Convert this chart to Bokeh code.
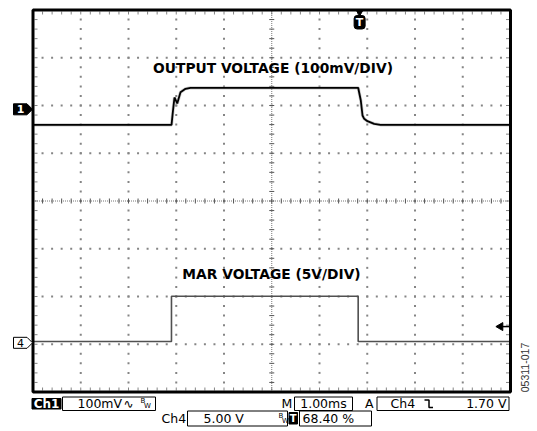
import numpy as np
from bokeh.plotting import figure
from bokeh.models import Range1d, Label
from bokeh.embed import file_html
from bokeh.resources import INLINE

# ---------------- data ----------------
# time in ms from the left edge of the screen (1.00 ms/div, 10 div)
ch1_time_ms = [0.0, 2.901, 2.932, 2.963, 3.020, 3.089, 3.194, 3.298,
               6.810, 6.865, 6.901, 6.936, 7.005, 7.145, 7.277, 10.0]
# Ch1 output voltage, mV relative to the channel-1 ground marker
ch1_mv = [-32.4, -32.4, -2.5, 24.8, 12.2, 35.9, 43.0, 45.1,
          45.1, 18.5, -12.9, -19.9, -24.9, -30.3, -32.4, -32.4]

ch4_time_ms = [0.0, 2.90, 2.90, 6.81, 6.81, 10.0]
# Ch4 MAR voltage, V relative to the channel-4 ground marker
ch4_v = [0.14, 0.14, 4.88, 4.88, 0.14, 0.14]

CH1_MV_PER_DIV = 100.0
CH1_POS_DIV = 1.92
CH4_V_PER_DIV = 5.0
CH4_POS_DIV = -2.97
MS_PER_DIV = 1.0
TRIG_POS_PCT = 68.40
TRIG_LEVEL_V = 1.70

ch1_label = "OUTPUT VOLTAGE (100mV/DIV)"
ch4_label = "MAR VOLTAGE (5V/DIV)"

# ---------------- layout helpers (page px -> screen divisions) ----------------
PX = 47.75      # pixels per division
X0 = 32.5       # page x of screen left edge
Y0 = 200.5      # page y of screen centre


def hx(px):
    return (px - X0) / PX


def hy(py):
    return (Y0 - py) / PX


def d(n):
    return n / PX


W, H = 537, 431
p = figure(width=W, height=H, x_range=Range1d(hx(0), hx(W)),
           y_range=Range1d(hy(H), hy(0)), x_axis_type=None, y_axis_type=None,
           toolbar_location=None, output_backend="svg", min_border=0,
           outline_line_color=None, background_fill_color="white",
           border_fill_color="white")

GRID = "#858585"
# dotted graticule
vx, vy = [], []
for gx in range(1, 10):
    if gx == 5:
        continue
    for k in range(-19, 20):
        vx.append(gx); vy.append(k * 0.2)
for gy in range(-3, 4):
    if gy == 0:
        continue
    for k in range(1, 50):
        vx.append(k * 0.2); vy.append(gy)
p.scatter(vx, vy, marker="square", size=2, line_color=None, fill_color=GRID)

# edge ticks
tx = [k * 0.2 for k in range(1, 50)]
ty = [k * 0.2 for k in range(-19, 20)]
p.segment(x0=tx, x1=tx, y0=[4 - d(1.5)] * len(tx), y1=[4 - d(4.5)] * len(tx), line_color=GRID, line_width=1)
p.segment(x0=tx, x1=tx, y0=[-4 + d(1.5)] * len(tx), y1=[-4 + d(4.5)] * len(tx), line_color=GRID, line_width=1)
p.segment(x0=[d(1.5)] * len(ty), x1=[d(4.5)] * len(ty), y0=ty, y1=ty, line_color=GRID, line_width=1)
p.segment(x0=[10 - d(1.5)] * len(ty), x1=[10 - d(4.5)] * len(ty), y0=ty, y1=ty, line_color=GRID, line_width=1)

# centre crosshair with ticks
p.segment(x0=[0], x1=[10], y0=[0], y1=[0], line_color="#777777", line_width=1, line_dash="1 1")
p.segment(x0=[5], x1=[5], y0=[-4], y1=[4], line_color="#777777", line_width=1, line_dash="1 1")
p.segment(x0=tx, x1=tx, y0=[-d(2.5)] * len(tx), y1=[d(2.5)] * len(tx), line_color="#555555", line_width=1)
p.segment(x0=[5 - d(2.5)] * len(ty), x1=[5 + d(2.5)] * len(ty), y0=ty, y1=ty, line_color="#555555", line_width=1)

# traces
c1x = np.array(ch1_time_ms) / MS_PER_DIV
c1y = np.array(ch1_mv) / CH1_MV_PER_DIV + CH1_POS_DIV
c4x = np.array(ch4_time_ms) / MS_PER_DIV
c4y = np.array(ch4_v) / CH4_V_PER_DIV + CH4_POS_DIV
p.line(c4x, c4y, line_color="#505050", line_width=1.6)
p.line(c1x, c1y, line_color="#9a9a9a", line_width=3.2, line_alpha=0.5)
p.line(c1x, c1y, line_color="black", line_width=1.8)

# screen border
p.quad(left=[0], right=[10], bottom=[-4], top=[4], fill_color=None, line_color="black", line_width=3)

# channel ground markers
def marker(ycent, fill, txt, tcolor, bold):
    xs = [hx(13), hx(26.5), hx(32), hx(26.5), hx(13)]
    ys = [ycent + d(5.5), ycent + d(5.5), ycent, ycent - d(5.5), ycent - d(5.5)]
    p.patch(xs, ys, fill_color=fill, line_color="black", line_width=1)
    p.add_layout(Label(x=hx(20), y=ycent, text=txt, text_color=tcolor, text_font="DejaVu Sans",
                       text_font_style="bold" if bold else "normal", text_font_size="11px",
                       text_align="center", text_baseline="middle"))


marker(CH1_POS_DIV, "black", "1", "white", True)
marker(CH4_POS_DIV, "white", "4", "black", False)

# trigger position marker
tpos = TRIG_POS_PCT / 10.0
p.scatter([tpos], [hy(11.5)], marker="inverted_triangle", size=7, fill_color="black", line_color="black")
p.quad(left=[tpos - d(5.5)], right=[tpos + d(5.5)], bottom=[hy(28.5)], top=[hy(15)],
       fill_color="black", line_color="black", border_radius=3)
p.add_layout(Label(x=tpos, y=hy(21.8), text="T", text_color="white", text_font="DejaVu Sans",
                   text_font_style="bold", text_font_size="11px", text_align="center", text_baseline="middle"))

# trigger level arrow
tl = CH4_POS_DIV + TRIG_LEVEL_V / CH4_V_PER_DIV
p.segment(x0=[hx(500)], x1=[hx(508.5)], y0=[tl], y1=[tl], line_color="black", line_width=1.5)
p.scatter([hx(500)], [tl], marker="triangle", angle=np.pi / 2, size=8, fill_color="black", line_color="black")

# channel captions
p.add_layout(Label(x=hx(272.5), y=hy(67.2), text=ch1_label, text_font="DejaVu Sans", text_font_style="bold",
                   text_font_size="13.8px", text_align="center", text_baseline="middle", text_color="black"))
p.add_layout(Label(x=hx(271), y=hy(273.7), text=ch4_label, text_font="DejaVu Sans", text_font_style="bold",
                   text_font_size="13.8px", text_align="center", text_baseline="middle", text_color="black"))

# ---------------- readout rows under the screen ----------------
FS = "12.5px"


def txt(t, x, y, align="left", size=FS, color="black", bold=False, font="DejaVu Sans"):
    p.add_layout(Label(x=hx(x), y=hy(y), text=t, text_font=font, text_font_size=size,
                       text_font_style="bold" if bold else "normal", text_color=color,
                       text_align=align, text_baseline="middle"))


def box(x0, x1, y0, y1, fill=None):
    p.quad(left=[hx(x0)], right=[hx(x1)], top=[hy(y0)], bottom=[hy(y1)],
           fill_color=fill, line_color="black", line_width=1)


def bw(x, y):
    txt("B", x, y - 2.5, size="7px")
    txt("W", x + 3.5, y + 2.5, size="7px")


R1, R2 = 403.3, 418.0
# row 1
box(31.5, 60.5, 398, 408.5, fill="black")
txt("Ch1", 46, R1, align="center", color="white", bold=True, size="12px")
box(62, 155, 396.5, 410)
txt("100mV", 77, R1)
txt("\u223f", 123, R1, size="12px")
bw(140, R1)
txt("M", 281, R1)
box(294, 352, 396.5, 410)
txt("1.00ms", 323, R1, align="center")
txt("A", 364.5, R1)
box(376.5, 508.5, 396.5, 410)
txt("Ch4", 390, R1)
p.line([hx(424), hx(428.5), hx(428.5), hx(432.5)], [hy(399.5), hy(399.5), hy(407), hy(407)],
       line_color="black", line_width=1.5)
txt("1.70 V", 506, R1, align="right")
# row 2
txt("Ch4", 161, R2)
box(187, 287, 410.5, 425.5)
txt("5.00 V", 203, R2)
bw(278, R2)
box(288.5, 297, 412, 423.5, fill="black")
txt("T", 292.75, R2, align="center", color="white", bold=True, size="10px")
box(299, 371, 410.5, 425.5)
txt("68.40 %", 302, R2)

# figure id
p.add_layout(Label(x=hx(524.5), y=hy(367), text="05311-017", angle=np.pi / 2, text_font="Liberation Sans",
                   text_font_size="10.5px", text_align="center", text_baseline="middle", text_color="#333333"))

open("out.html", "w").write(file_html(p, INLINE))
